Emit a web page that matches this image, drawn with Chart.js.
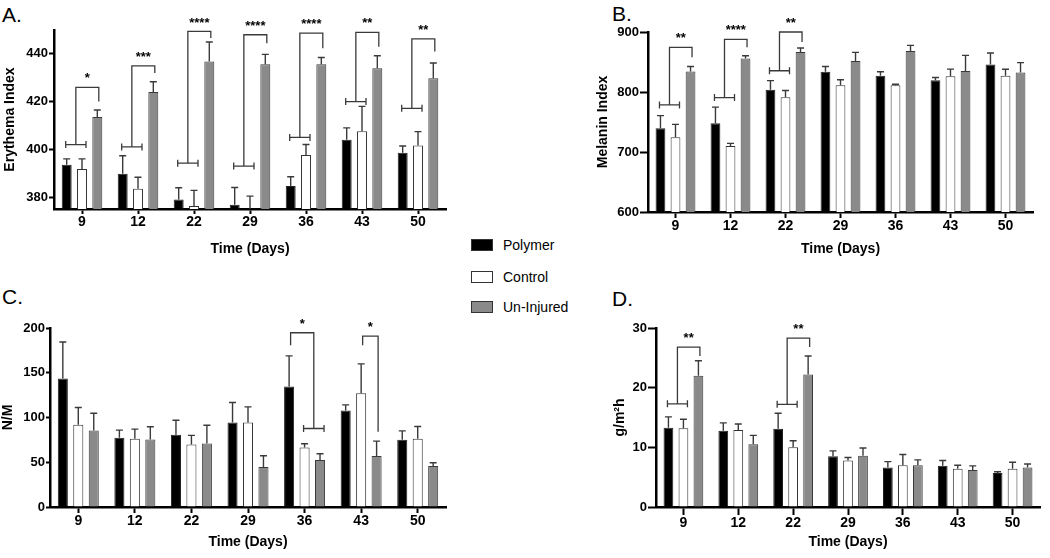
<!DOCTYPE html>
<html>
<head>
<meta charset="utf-8">
<script src="https://cdn.jsdelivr.net/npm/chart.js@4.4.1/dist/chart.umd.min.js"></script>
<style>
  body { margin: 0; background: #fff; font-family: "Liberation Sans", Arial, sans-serif; }
  #page { position: relative; width: 1050px; height: 558px; overflow: hidden; }
  canvas { position: absolute; }
  .panel-label { position: absolute; font-size: 21px; line-height: 1; color: #000; }
  .legend-row { position: absolute; left: 471px; height: 14px; display: flex; align-items: center; font-size: 14px; color: #000; }
  .legend-box { width: 20px; height: 10px; border: 1px solid #333; margin-right: 10px; }
</style>
</head>
<body>
<div id="page">
  <div class="panel-label" style="left:2px; top:4px;">A.</div>
  <div class="panel-label" style="left:612px; top:3px;">B.</div>
  <div class="panel-label" style="left:2px; top:286px;">C.</div>
  <div class="panel-label" style="left:612px; top:288px;">D.</div>

  <div class="legend-row" style="top:238px;"><div class="legend-box" style="background:#000;"></div>Polymer</div>
  <div class="legend-row" style="top:270px;"><div class="legend-box" style="background:#fff;"></div>Control</div>
  <div class="legend-row" style="top:300px;"><div class="legend-box" style="background:#8a8a8a;"></div>Un-Injured</div>

  <canvas id="chartA" width="460" height="270" style="left:0; top:0;"></canvas>
  <canvas id="chartB" width="530" height="270" style="left:520px; top:0;"></canvas>
  <canvas id="chartC" width="460" height="278" style="left:0; top:280px;"></canvas>
  <canvas id="chartD" width="530" height="278" style="left:520px; top:280px;"></canvas>
</div>

<script>
const days = ["9", "12", "22", "29", "36", "43", "50"];

// A. Erythema index (mean and upper error)
const erythemaPolymer = [393.5, 389.8, 379.0, 376.8, 384.6, 404.0, 398.6];
const erythemaPolymerErr = [2.5, 7.5, 4.9, 7.2, 3.9, 5.0, 2.8];
const erythemaControl = [391.8, 383.5, 376.3, 374.0, 397.6, 407.6, 401.6];
const erythemaControlErr = [4.2, 4.8, 6.5, 6.4, 4.4, 10.4, 5.8];
const erythemaUninjured = [413.5, 424.0, 436.8, 435.6, 435.6, 434.0, 429.8];
const erythemaUninjuredErr = [3.0, 4.3, 8.2, 4.2, 2.9, 5.2, 6.4];
const erythemaTicks = [380, 400, 420, 440];

// B. Melanin index
const melaninPolymer = [739.4, 747.8, 803.6, 833.7, 827.0, 819.7, 846.0];
const melaninPolymerErr = [21.2, 27.0, 15.4, 8.9, 6.7, 4.5, 19.0];
const melaninControl = [724.4, 709.9, 791.3, 811.4, 811.4, 826.4, 827.0];
const melaninControlErr = [21.6, 4.4, 11.2, 8.9, 1.6, 11.7, 11.0];
const melaninUninjured = [834.2, 856.0, 866.6, 851.5, 868.3, 834.8, 832.6];
const melaninUninjuredErr = [8.4, 4.5, 6.7, 14.5, 9.4, 26.2, 16.4];
const melaninTicks = [600, 700, 800, 900];

// C. N/M
const nmPolymer = [143.5, 77.3, 80.7, 94.4, 134.6, 107.8, 75.1];
const nmPolymerErr = [40.9, 8.6, 16.3, 22.3, 34.2, 6.3, 10.0];
const nmControl = [91.8, 76.2, 69.9, 94.4, 66.5, 127.1, 76.2];
const nmControlErr = [19.4, 10.8, 10.1, 17.5, 4.1, 32.8, 13.8];
const nmUninjured = [85.5, 75.5, 71.0, 44.6, 52.4, 56.9, 45.7];
const nmUninjuredErr = [19.3, 14.1, 20.4, 12.6, 7.1, 16.7, 3.7];
const nmTicks = [0, 50, 100, 150, 200];

// D. g/m2h
const tewlPolymer = [13.3, 12.8, 13.1, 8.5, 6.6, 6.9, 5.7];
const tewlPolymerErr = [1.8, 1.3, 2.6, 0.9, 1.0, 0.9, 0.2];
const tewlControl = [13.2, 12.9, 10.0, 7.8, 7.0, 6.4, 6.4];
const tewlControlErr = [1.5, 1.0, 1.1, 0.5, 1.8, 0.6, 1.1];
const tewlUninjured = [22.0, 10.5, 22.2, 8.6, 7.0, 6.2, 6.6];
const tewlUninjuredErr = [2.5, 1.5, 3.1, 1.3, 0.9, 0.7, 0.6];
const tewlTicks = [0, 10, 20, 30];

// significance brackets: bars compared within one day (0 polymer, 1 control, 2 un-injured)
const erythemaBrackets = [
    { cat: 0, left: [0, 1], leftY: 402, right: [2], rightY: 420, top: 426, label: "*" },
    { cat: 1, left: [0, 1], leftY: 401, right: [2], rightY: 432, top: 435, label: "***" },
    { cat: 2, left: [0, 1], leftY: 394.2, right: [2], rightY: 446.6, top: 449.4, label: "****" },
    { cat: 3, left: [0, 1], leftY: 393, right: [2], rightY: 444.5, top: 448, label: "****" },
    { cat: 4, left: [0, 1], leftY: 405, right: [2], rightY: 442.4, top: 448.7, label: "****" },
    { cat: 5, left: [0, 1], leftY: 420, right: [2], rightY: 443, top: 449, label: "**" },
    { cat: 6, left: [0, 1], leftY: 417.2, right: [2], rightY: 441, top: 446.3, label: "**" },
];
const melaninBrackets = [
    { cat: 0, left: [0, 1], leftY: 778.5, right: [2], rightY: 858, top: 874.4, label: "**" },
    { cat: 1, left: [0, 1], leftY: 790.7, right: [2], rightY: 874.4, top: 887.8, label: "****" },
    { cat: 2, left: [0, 1], leftY: 835.4, right: [2], rightY: 883.3, top: 900, label: "**" },
];
const nmBrackets = [
    { cat: 4, left: [0], leftY: 180.6, right: [1, 2], rightY: 87.7, top: 194.7, label: "*" },
    { cat: 5, left: [1], leftY: 180.6, right: [2], rightY: 84, top: 191, label: "*" },
];
const tewlBrackets = [
    { cat: 0, left: [0, 1], leftY: 17.3, right: [2], rightY: 25.3, top: 26.8, label: "**" },
    { cat: 2, left: [0, 1], leftY: 17.2, right: [2], rightY: 26.8, top: 28.3, label: "**" },
];

const FONT = "'Liberation Sans', Arial, sans-serif";
const LINE = "#3a3a3a";

const errorBars = {
    id: "errorBars",
    afterDatasetsDraw(chart) {
        const { ctx, chartArea } = chart;
        const y = chart.scales.y;
        ctx.save();
        ctx.beginPath();
        ctx.rect(chartArea.left, chartArea.top - 2, chartArea.right - chartArea.left, chartArea.bottom - chartArea.top + 2);
        ctx.clip();
        ctx.strokeStyle = LINE;
        ctx.lineWidth = 1.4;
        chart.data.datasets.forEach((ds, i) => {
            chart.getDatasetMeta(i).data.forEach((bar, j) => {
                const base = y.getPixelForValue(ds.data[j]);
                const top = y.getPixelForValue(ds.data[j] + ds.errors[j]);
                ctx.beginPath();
                ctx.moveTo(bar.x, base);
                ctx.lineTo(bar.x, top);
                ctx.moveTo(bar.x - 3.5, top);
                ctx.lineTo(bar.x + 3.5, top);
                ctx.stroke();
            });
        });
        ctx.restore();
    },
};

const brackets = {
    id: "brackets",
    afterDraw(chart, args, opts) {
        const { ctx } = chart;
        const y = chart.scales.y;
        ctx.save();
        ctx.strokeStyle = LINE;
        ctx.lineWidth = 1.3;
        ctx.fillStyle = "#000";
        ctx.font = "bold 13px " + FONT;
        ctx.textAlign = "center";
        ctx.textBaseline = "bottom";
        (opts.items || []).forEach((b) => {
            const barX = (i) => chart.getDatasetMeta(i).data[b.cat].x;
            const end = (group, val) => {
                const py = y.getPixelForValue(val);
                if (group.length > 1) {
                    const x1 = barX(group[0]) - 1;
                    const x2 = barX(group[group.length - 1]) + 4;
                    ctx.beginPath();
                    ctx.moveTo(x1, py); ctx.lineTo(x2, py);
                    ctx.moveTo(x1, py - 3.5); ctx.lineTo(x1, py + 3.5);
                    ctx.moveTo(x2, py - 3.5); ctx.lineTo(x2, py + 3.5);
                    ctx.stroke();
                    return { x: (x1 + x2) / 2, y: py };
                }
                return { x: barX(group[0]) + 1.5, y: py };
            };
            const l = end(b.left, b.leftY);
            const r = end(b.right, b.rightY);
            const top = y.getPixelForValue(b.top);
            ctx.beginPath();
            ctx.moveTo(l.x, l.y);
            ctx.lineTo(l.x, top);
            ctx.lineTo(r.x, top);
            ctx.lineTo(r.x, r.y);
            ctx.stroke();
            ctx.fillText(b.label, (l.x + r.x) / 2, top - 2);
        });
        ctx.restore();
    },
};

function makeDatasets(polymer, polymerErr, control, controlErr, uninjured, uninjuredErr) {
    const common = { borderWidth: 1, categoryPercentage: 0.82, barPercentage: 0.65 };
    return [
        { label: "Polymer", data: polymer, errors: polymerErr, backgroundColor: "#000", borderColor: "#222", ...common },
        { label: "Control", data: control, errors: controlErr, backgroundColor: "#fff", borderColor: "#333", ...common },
        { label: "Un-Injured", data: uninjured, errors: uninjuredErr, backgroundColor: "#8a8a8a", borderColor: "#3a3a3a", ...common },
    ];
}

function drawPanel(id, datasets, p) {
    new Chart(document.getElementById(id), {
        type: "bar",
        data: { labels: days, datasets: datasets },
        plugins: [errorBars, brackets],
        options: {
            responsive: false,
            animation: false,
            devicePixelRatio: 1,
            layout: { padding: { left: p.padLeft, right: p.padRight, top: p.padTop, bottom: 0 } },
            plugins: {
                legend: { display: false },
                tooltip: { enabled: false },
                brackets: { items: p.brackets },
            },
            scales: {
                x: {
                    offset: true,
                    grid: { drawOnChartArea: false, offset: false, tickLength: p.xTick, tickWidth: 2, tickColor: "#000" },
                    border: { color: "#000", width: 2.5 },
                    ticks: { color: "#000", padding: 0, maxRotation: 0, font: { family: FONT, size: 14, weight: "bold" } },
                    title: {
                        display: true, text: "Time (Days)", color: "#000",
                        font: { family: FONT, size: 14, weight: "bold" },
                        padding: { top: 0, bottom: p.xTitlePad },
                    },
                    afterFit: (scale) => { scale.height = p.xHeight; },
                },
                y: {
                    min: p.min,
                    max: p.max,
                    afterBuildTicks: (scale) => { scale.ticks = p.ticks.map((v) => ({ value: v })); },
                    grid: { drawOnChartArea: false, tickLength: p.yTick, tickWidth: 2, tickColor: "#000" },
                    border: { color: "#000", width: 2.5 },
                    ticks: { color: "#000", padding: 1, font: { family: FONT, size: 13, weight: "bold" } },
                    title: {
                        display: true, text: p.yTitle, color: "#000",
                        font: { family: FONT, size: 14, weight: "bold" },
                        padding: { top: p.yTitlePad, bottom: 0 },
                    },
                    afterFit: (scale) => { scale.width = p.yWidth; },
                },
            },
        },
    });
}

drawPanel("chartA",
    makeDatasets(erythemaPolymer, erythemaPolymerErr, erythemaControl, erythemaControlErr, erythemaUninjured, erythemaUninjuredErr),
    { min: 375, max: 450, ticks: erythemaTicks, yTitle: "Erythema Index", brackets: erythemaBrackets,
      padLeft: 0, padRight: 14, padTop: 30, yWidth: 54, xHeight: 61, xTitlePad: 12, yTitlePad: 2, xTick: 5, yTick: 5 });

drawPanel("chartB",
    makeDatasets(melaninPolymer, melaninPolymerErr, melaninControl, melaninControlErr, melaninUninjured, melaninUninjuredErr),
    { min: 600, max: 900, ticks: melaninTicks, yTitle: "Melanin Index", brackets: melaninBrackets,
      padLeft: 73, padRight: 17, padTop: 32, yWidth: 55, xHeight: 58, xTitlePad: 12, yTitlePad: 2, xTick: 6, yTick: 8 });

drawPanel("chartC",
    makeDatasets(nmPolymer, nmPolymerErr, nmControl, nmControlErr, nmUninjured, nmUninjuredErr),
    { min: 0, max: 200, ticks: nmTicks, yTitle: "N/M", brackets: nmBrackets,
      padLeft: 0, padRight: 14, padTop: 48, yWidth: 50, xHeight: 51, xTitlePad: 7, yTitlePad: 0, xTick: 6, yTick: 4 });

drawPanel("chartD",
    makeDatasets(tewlPolymer, tewlPolymerErr, tewlControl, tewlControlErr, tewlUninjured, tewlUninjuredErr),
    { min: 0, max: 30, ticks: tewlTicks, yTitle: "g/m²h", brackets: tewlBrackets,
      padLeft: 90, padRight: 10, padTop: 48, yWidth: 46, xHeight: 51, xTitlePad: 7, yTitlePad: 2, xTick: 8, yTick: 8 });
</script>
</body>
</html>
